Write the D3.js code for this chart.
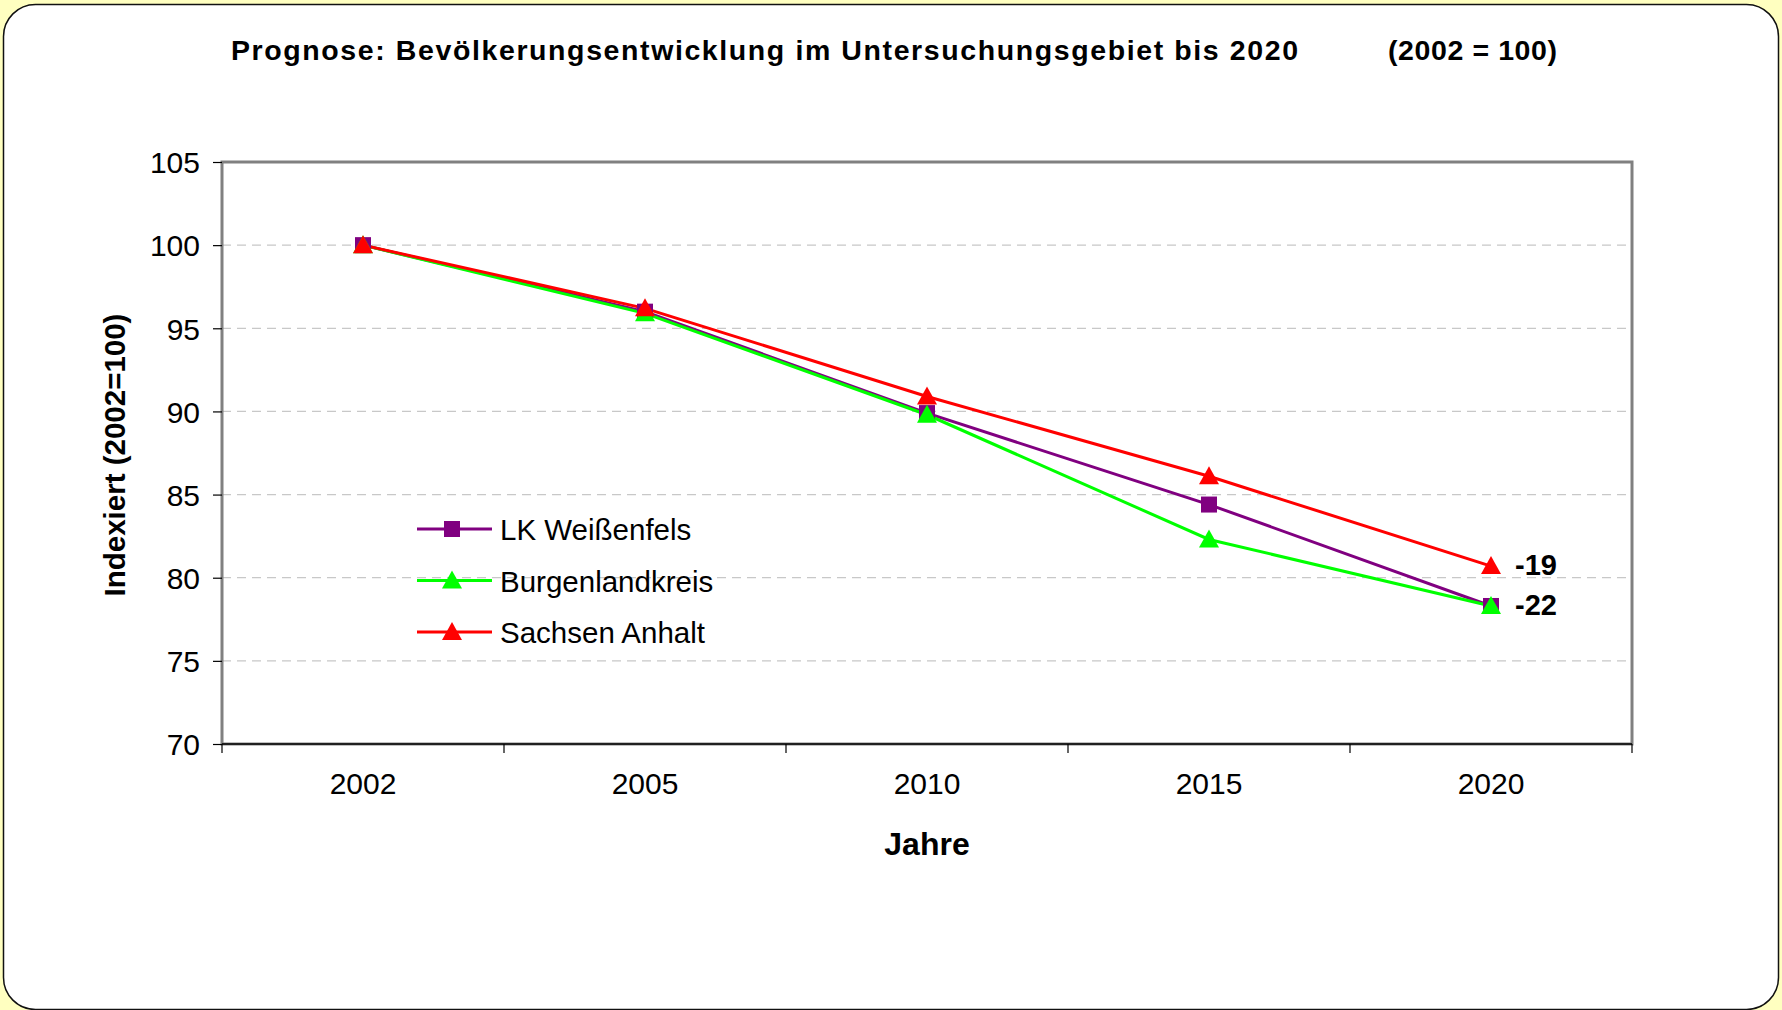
<!DOCTYPE html>
<html>
<head>
<meta charset="utf-8">
<script src="https://cdn.jsdelivr.net/npm/d3@7"></script>
<style>
  body { margin: 0; background: #ffffc0; }
  svg { display: block; font-family: "Liberation Sans", Arial, sans-serif; }
</style>
</head>
<body>
<svg id="container"></svg>
<script>
// data
var years = ["2002", "2005", "2010", "2015", "2020"];
var yTicks = [70, 75, 80, 85, 90, 95, 100, 105];
var weissenfels = [100, 96.0, 89.9, 84.4, 78.3];
var burgenland = [100, 95.9, 89.8, 82.3, 78.3];
var sachsenAnhalt = [100, 96.2, 90.9, 86.1, 80.7];
var endLabels = ["-19", "-22"];

var series = [
    {name: "LK Weißenfels", values: weissenfels, color: "#800080", shape: "square"},
    {name: "Burgenlandkreis", values: burgenland, color: "#00ff00", shape: "triangle"},
    {name: "Sachsen Anhalt", values: sachsenAnhalt, color: "#ff0000", shape: "triangle"}
];

const W = 1782, H = 1010;
const margin = {top: 162, right: 150, bottom: 266, left: 222},
      w = W - margin.left - margin.right,
      h = H - margin.top - margin.bottom;

var root = d3.select("#container").attr("width", W).attr("height", H);

// background panel
root.append("rect").attr("width", W).attr("height", H).attr("fill", "#ffffc0");
root.append("rect")
    .attr("x", 3.5).attr("y", 4.5)
    .attr("width", W - 7).attr("height", H - 5)
    .attr("rx", 32).attr("ry", 32)
    .attr("fill", "#fff").attr("stroke", "#111").attr("stroke-width", 1.5);

// title
root.append("text")
    .attr("x", 231).attr("y", 60)
    .attr("font-size", 28.5).attr("font-weight", "bold")
    .attr("textLength", 1067).attr("lengthAdjust", "spacing")
    .text("Prognose: Bevölkerungsentwicklung im Untersuchungsgebiet bis 2020");
root.append("text")
    .attr("x", 1388).attr("y", 60)
    .attr("font-size", 28.5).attr("font-weight", "bold")
    .attr("textLength", 169).attr("lengthAdjust", "spacing")
    .text("(2002 = 100)");

var svg = root.append("g")
    .attr("transform", "translate(" + margin.left + "," + margin.top + ")");

var xBand = d3.scaleBand().domain(years).range([0, w]);
var xCenter = d => xBand(d) + xBand.bandwidth() / 2;
var yScale = d3.scaleLinear().domain([70, 105]).range([h, 0]);

// gridlines
svg.append("g")
    .selectAll("line")
    .data(yTicks.filter(t => t > 70 && t < 105))
    .enter().append("line")
    .attr("x1", 0).attr("x2", w)
    .attr("y1", d => yScale(d)).attr("y2", d => yScale(d))
    .attr("stroke", "#c8c8c8").attr("stroke-width", 1.2)
    .attr("stroke-dasharray", "9,6");

// frame
svg.append("rect")
    .attr("width", w).attr("height", h)
    .attr("fill", "none").attr("stroke", "#808080").attr("stroke-width", 3);

// y axis
var yAxis = d3.axisLeft(yScale).tickValues(yTicks).tickSize(9).tickPadding(13);
var gY = svg.append("g").attr("class", "axis y-axis").call(yAxis);
gY.select(".domain").remove();
gY.selectAll("line").attr("stroke", "#000").attr("stroke-width", 1.2);
gY.selectAll("text").attr("font-size", 30).attr("font-family", "Liberation Sans, Arial, sans-serif")
    .attr("fill", "#000").attr("dy", "0.36em");

// x axis: ticks on band boundaries, labels at centers
var xEdges = d3.scaleLinear().domain([0, years.length]).range([0, w]);
var gX = svg.append("g")
    .attr("class", "axis x-axis")
    .attr("transform", "translate(0," + h + ")");
gX.append("line").attr("x1", 0).attr("x2", w).attr("stroke", "#000").attr("stroke-width", 1.5);
gX.selectAll("line.tk")
    .data(d3.range(0, years.length + 1))
    .enter().append("line")
    .attr("class", "tk")
    .attr("x1", d => xEdges(d)).attr("x2", d => xEdges(d))
    .attr("y1", 0).attr("y2", 9)
    .attr("stroke", "#000").attr("stroke-width", 1.2);
gX.selectAll("text")
    .data(years)
    .enter().append("text")
    .attr("x", d => xCenter(d))
    .attr("y", 50)
    .attr("text-anchor", "middle")
    .attr("font-size", 30)
    .text(d => d);

// axis titles
svg.append("text")
    .attr("x", w / 2).attr("y", h + 111)
    .attr("text-anchor", "middle")
    .attr("font-size", 32).attr("font-weight", "bold")
    .text("Jahre");
svg.append("text")
    .attr("transform", "translate(" + (125 - margin.left) + "," + (h / 2 + 2) + ") rotate(-90)")
    .attr("text-anchor", "middle")
    .attr("font-size", 29.5).attr("font-weight", "bold")
    .text("Indexiert (2002=100)");

// lines and markers
var line = d3.line()
    .x((d, i) => xCenter(years[i]))
    .y(d => yScale(d));

function drawMarker(g, shape, color) {
    if (shape === "square") {
        g.append("rect").attr("x", -8).attr("y", -8).attr("width", 16).attr("height", 16).attr("fill", color);
    } else {
        g.append("path").attr("d", "M0,-10L10,8L-10,8Z").attr("fill", color);
    }
}

series.forEach(s => {
    svg.append("path")
        .datum(s.values)
        .attr("d", line)
        .attr("fill", "none")
        .attr("stroke", s.color)
        .attr("stroke-width", 3);
});
series.forEach(s => {
    s.values.forEach((v, i) => {
        var g = svg.append("g")
            .attr("transform", "translate(" + xCenter(years[i]) + "," + yScale(v) + ")");
        drawMarker(g, s.shape, s.color);
    });
});

// end labels
var last = years.length - 1;
[sachsenAnhalt[last], burgenland[last]].forEach((v, i) => {
    svg.append("text")
        .attr("x", xCenter(years[last]) + 24)
        .attr("y", yScale(v) + 9)
        .attr("font-size", 29).attr("font-weight", "bold")
        .text(endLabels[i]);
});

// legend
var legend = svg.append("g").attr("transform", "translate(" + (417 - margin.left) + "," + (529 - margin.top) + ")");
series.forEach((s, i) => {
    var row = legend.append("g").attr("transform", "translate(0," + (i * 51.5) + ")");
    row.append("line").attr("x1", 0).attr("x2", 75)
        .attr("stroke", s.color).attr("stroke-width", 3);
    var m = row.append("g").attr("transform", "translate(35,0)");
    drawMarker(m, s.shape, s.color);
    row.append("text")
        .attr("x", 83).attr("y", 11)
        .attr("font-size", 29.5)
        .text(s.name);
});
</script>
</body>
</html>
